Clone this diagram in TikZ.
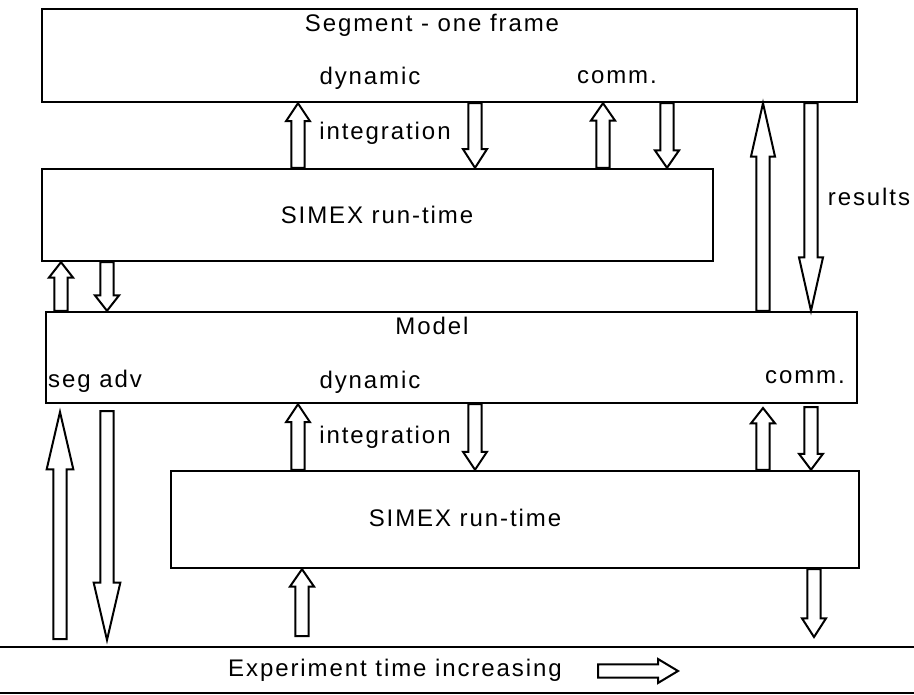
\documentclass[tikz,border=0pt]{standalone}
\usepackage{fontspec}
\setmainfont{Liberation Sans}[LetterSpace=8]
\usetikzlibrary{calc, fit}

% hollow block arrow: [head half width]{from}{to}{head length}
\newcommand{\hollowarrow}[4][9pt]{%
  \coordinate (ha-base) at ($#3!#4!#2$);
  \draw[hollow] ($#2!5pt!90:#3$) -- ($(ha-base)!5pt!90:#3$) -- ($(ha-base)!#1!90:#3$) -- #3
    -- ($(ha-base)!#1!-90:#3$) -- ($(ha-base)!5pt!-90:#3$) -- ($#2!5pt!-90:#3$) -- cycle;}

\begin{document}
\begin{tikzpicture}[x=0.75pt, y=-0.75pt,
    every node/.style={font=\fontsize{18}{21}\selectfont},
    box/.style={draw, line width=1.8pt, inner sep=0pt},
    hollow/.style={draw, fill=white, line width=1.5pt, line join=miter}]
    \useasboundingbox (0,0) rectangle (914,695);

    % boxes
    \node[box, fit={(42,9) (857,102)}] (frame) {};
    \node[box, fit={(42,169) (713,261)}] (simexA) {};
    \node[box, fit={(46,312) (857,403)}] (model) {};
    \node[box, fit={(171,471) (859,568)}] (simexB) {};

    % labels
    \node (frametitle) at (432,25) {Segment - one frame};
    \node (dynA) at (370,78) {dynamic};
    \node (commA) at (617,77) {comm.};
    \node (integA) at (385,133) {integration};
    \node (simexAlabel) at (377,215) {SIMEX run-time};
    \node (results) at (869,197) {results};
    \node (modeltitle) at (432,326) {Model};
    \node (segadv) at (95,381) {seg adv};
    \node (dynB) at (370,382) {dynamic};
    \node (commB) at (805,377) {comm.};
    \node (integB) at (385,437) {integration};
    \node (simexBlabel) at (465,518) {SIMEX run-time};
    \node (timeline) at (395,670) {Experiment time increasing};

    % frame <-> upper run-time
    \hollowarrow{(298,0 |- simexA.north)}{(298,0 |- frame.south)}{13.5pt}
    \hollowarrow{(475,0 |- frame.south)}{(475,0 |- simexA.north)}{14pt}
    \hollowarrow{(603,0 |- simexA.north)}{(603,0 |- frame.south)}{13pt}
    \hollowarrow{(667,0 |- frame.south)}{(667,0 |- simexA.north)}{13pt}

    % frame <-> model
    \hollowarrow[9pt]{(763,0 |- model.north)}{(763,0 |- frame.south)}{40pt}
    \hollowarrow[9pt]{(811,0 |- frame.south)}{(811,0 |- model.north)}{40pt}

    % upper run-time <-> model
    \hollowarrow{(61,0 |- model.north)}{(61,0 |- simexA.south)}{11.5pt}
    \hollowarrow{(107,0 |- simexA.south)}{(107,0 |- model.north)}{11.5pt}

    % model <-> lower run-time
    \hollowarrow{(298,0 |- simexB.north)}{(298,0 |- model.south)}{13.5pt}
    \hollowarrow{(475,0 |- model.south)}{(475,0 |- simexB.north)}{13.5pt}
    \hollowarrow{(763,0 |- simexB.north)}{(763,408)}{11.5pt}
    \hollowarrow{(811,407)}{(811,0 |- simexB.north)}{12pt}

    % lower run-time <-> time line
    \hollowarrow{(302,636)}{(302,0 |- simexB.south)}{13pt}
    \hollowarrow{(814,0 |- simexB.south)}{(814,637)}{14pt}

    % seg adv
    \hollowarrow[10pt]{(60,639)}{(60,412)}{43pt}
    \hollowarrow[10pt]{(107,411)}{(107,640)}{43pt}

    % time axis
    \draw[line width=1.5pt] (0,647) -- (914,647);
    \draw[line width=1.5pt] (0,693) -- (914,693);
    \hollowarrow{(598,671)}{(678,671)}{15pt}
\end{tikzpicture}
\end{document}
